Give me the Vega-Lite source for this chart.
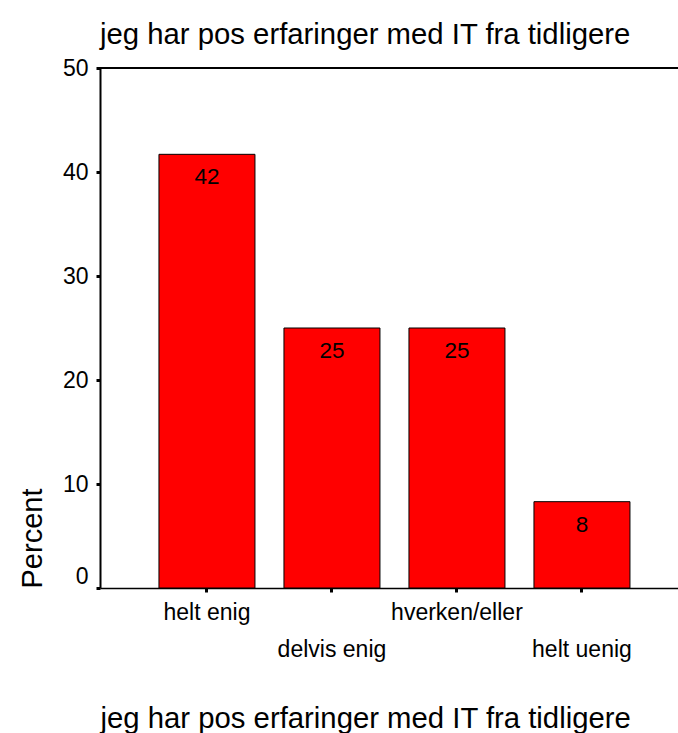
{
  "$schema": "https://vega.github.io/schema/vega-lite/v6.json",
  "autosize": "none",
  "width": 578,
  "height": 520,
  "padding": {"left": 100, "top": 68, "right": 0, "bottom": 145},
  "background": "white",
  "config": {"view": {"stroke": null}, "font": "Liberation Sans"},
  "title": {"text": "jeg har pos erfaringer med IT fra tidligere", "anchor": "start", "frame": "group", "fontSize": 29.3, "fontWeight": "normal", "offset": 7, "color": "black"},
  "data": {"values": [
    {"category": "helt enig", "percent": 41.7},
    {"category": "delvis enig", "percent": 25.0},
    {"category": "hverken/eller", "percent": 25.0},
    {"category": "helt uenig", "percent": 8.3}
  ]},
  "layer": [
    {
      "encoding": {
        "x": {"field": "category", "type": "nominal", "sort": null,
          "scale": {"paddingInner": 0.232, "paddingOuter": 0.428, "align": 0.551},
          "axis": {"title": "jeg har pos erfaringer med IT fra tidligere", "titleFontSize": 29.3, "titleFontWeight": "normal", "titleColor": "black", "titleAnchor": "start", "titlePadding": 43,
            "labelAngle": 0, "labelFontSize": 23, "labelColor": "black",
            "labelPadding": {"condition": {"test": "datum.value == 'delvis enig' || datum.value == 'helt uenig'", "value": 46}, "value": 9},
            "domainColor": "black", "domainWidth": 1.5, "tickColor": "black", "tickSize": 4, "tickWidth": 3, "grid": false, "labelLimit": 0}},
        "y": {"field": "percent", "type": "quantitative", "scale": {"domain": [0, 50]},
          "axis": {"values": [0, 10, 20, 30, 40, 50], "grid": false, "domainColor": "black", "domainWidth": 2, "tickColor": "black", "tickSize": 4, "tickWidth": 3,
            "labelFontSize": 23, "labelColor": "black", "labelPadding": 8, "labelFlush": false,
            "labelBaseline": {"condition": {"test": "datum.value == 0", "value": "bottom"}, "value": "middle"},
            "title": "Percent", "titleFontSize": 29, "titleFontWeight": "normal", "titleColor": "black", "titleAnchor": "start", "titlePadding": 15}}
      },
      "layer": [
        {"mark": {"type": "bar", "fill": "#ff0000", "stroke": "black", "strokeWidth": 1}},
        {"mark": {"type": "text", "baseline": "top", "dy": 12, "fontSize": 22.5, "color": "black"},
         "encoding": {"text": {"field": "percent", "type": "quantitative", "format": ".0f"}}}
      ]
    },
    {
      "mark": {"type": "rule", "color": "black", "strokeWidth": 1.5},
      "encoding": {"y": {"datum": 50, "type": "quantitative", "title": "Percent"}}
    }
  ]
}
